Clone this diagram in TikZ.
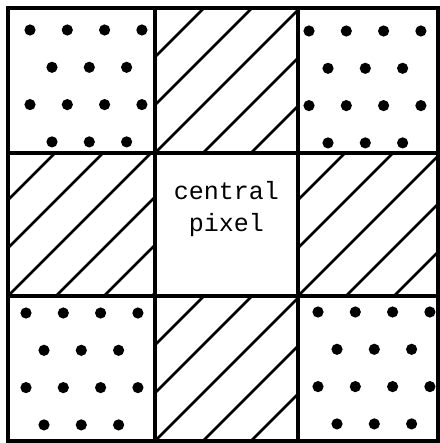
\documentclass[tikz,border=0pt]{standalone}
\usepackage{fontspec}
\setmonofont{Liberation Mono}
\begin{document}
\begin{tikzpicture}[x=1pt,y=-1pt,
  gridline/.style={line width=3.2pt},
  hatchline/.style={line width=2.7pt},
  txt/.style={font=\ttfamily\fontsize{25}{30}\selectfont, inner sep=0pt, anchor=base}]
\useasboundingbox (0,0) rectangle (439,443);
% hatched cells
\foreach \xa/\ya/\xb/\yb in {155/8/298/153, 8/153/155/296, 298/153/438/296, 155/296/298/441}{
  \begin{scope}
    \clip (\xa,\ya) rectangle (\xb,\yb);
    \foreach \k in {-3,...,3}{
      \draw[hatchline] ({\xa+\k*48},\yb) -- ++(200,-200);
    }
  \end{scope}
}
% dotted cells
\foreach \cx/\cy/\ax/\bx/\oy in {8/8/22/44/22, 298/8/11/30/23, 8/296/18/36/17, 298/296/20/39/16}{
  \foreach \r in {0,2}{
    \foreach \i in {0,...,3}
      \fill ({\cx+\ax+\i*37.3},{\cy+\oy+\r*37.3}) circle (5.6);
  }
  \foreach \r in {1,3}{
    \foreach \i in {0,1,2}
      \fill ({\cx+\bx+\i*37.3},{\cy+\oy+\r*37.3}) circle (5.6);
  }
}
% grid
\draw[gridline] (8,8) rectangle (438,441);
\draw[gridline] (155,8) -- (155,441);
\draw[gridline] (298,8) -- (298,441);
\draw[gridline] (8,153) -- (438,153);
\draw[gridline] (8,296) -- (438,296);
% text
\node[txt] (central) at (226.5,200) {central};
\node[txt] (pixel) at (226.5,231) {pixel};
\end{tikzpicture}
\end{document}
